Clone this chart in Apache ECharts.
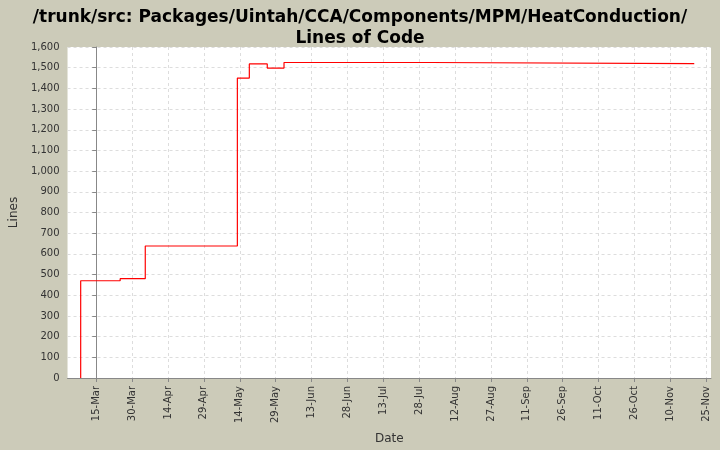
<!DOCTYPE html>
<html><head><meta charset="utf-8">
<script src="https://cdn.jsdelivr.net/npm/echarts@6/dist/echarts.min.js"></script>
<style>html,body{margin:0;padding:0;background:#cccbb9}#c{width:720px;height:450px}</style>
</head><body><div id="c"></div>
<script>
// days measured from 15-Mar
const tickLabels = ['15-Mar','30-Mar','14-Apr','29-Apr','14-May','29-May','13-Jun','28-Jun','13-Jul','28-Jul','12-Aug','27-Aug','11-Sep','26-Sep','11-Oct','26-Oct','10-Nov','25-Nov'];
const tickDays = [0,15,30,45,60,75,90,105,120,135,150,165,180,195,210,225,240,255];
const stepDays = [-6.5,-6.5,10,20.5,59,64,71.5,78.5,139.5,250];
const stepLines = [0,470,480,638,1450,1518,1498,1525,1520,1520];

const chart = echarts.init(document.getElementById('c'));
chart.setOption({
  backgroundColor:'#cccbb9',
  animation:false,
  title:{text:'/trunk/src: Packages/Uintah/CCA/Components/MPM/HeatConduction/\nLines of Code',left:'center',top:2,
    textStyle:{fontFamily:'DejaVu Sans',fontWeight:'bold',fontSize:17,color:'#000',lineHeight:21}},
  grid:{left:62,right:9,top:47,bottom:67,backgroundColor:'#fff',show:true,borderWidth:0},
  xAxis:{type:'value',min:-12,max:257,name:'Date',nameLocation:'middle',nameGap:55,
    nameTextStyle:{fontFamily:'DejaVu Sans',fontSize:12,color:'#333'},
    axisLine:{lineStyle:{color:'#888'}},
    axisTick:{customValues:tickDays,length:4,lineStyle:{color:'#888'}},
    axisLabel:{customValues:tickDays,rotate:90,fontFamily:'DejaVu Sans',fontSize:10,color:'#333',
      formatter:v=>tickLabels[tickDays.indexOf(v)]},
    splitLine:{show:true,lineStyle:{color:'#ddd',type:[3,3]}}},
  yAxis:{type:'value',min:0,max:1600,interval:100,name:'Lines',nameLocation:'middle',nameGap:42,
    nameTextStyle:{fontFamily:'DejaVu Sans',fontSize:12,color:'#333'},
    axisLine:{show:true,lineStyle:{color:'#888'}},axisTick:{show:true,length:4,lineStyle:{color:'#888'}},
    axisLabel:{fontFamily:'DejaVu Sans',fontSize:10,color:'#333',formatter:v=>v.toLocaleString('en-US')},
    splitLine:{lineStyle:{color:'#ddd',type:[3,3]}}},
  series:[{type:'line',step:'end',symbol:'none',lineStyle:{color:'#f00',width:1.2},
    data:stepDays.map((d,i)=>[d,stepLines[i]])}]
});
</script></body></html>
